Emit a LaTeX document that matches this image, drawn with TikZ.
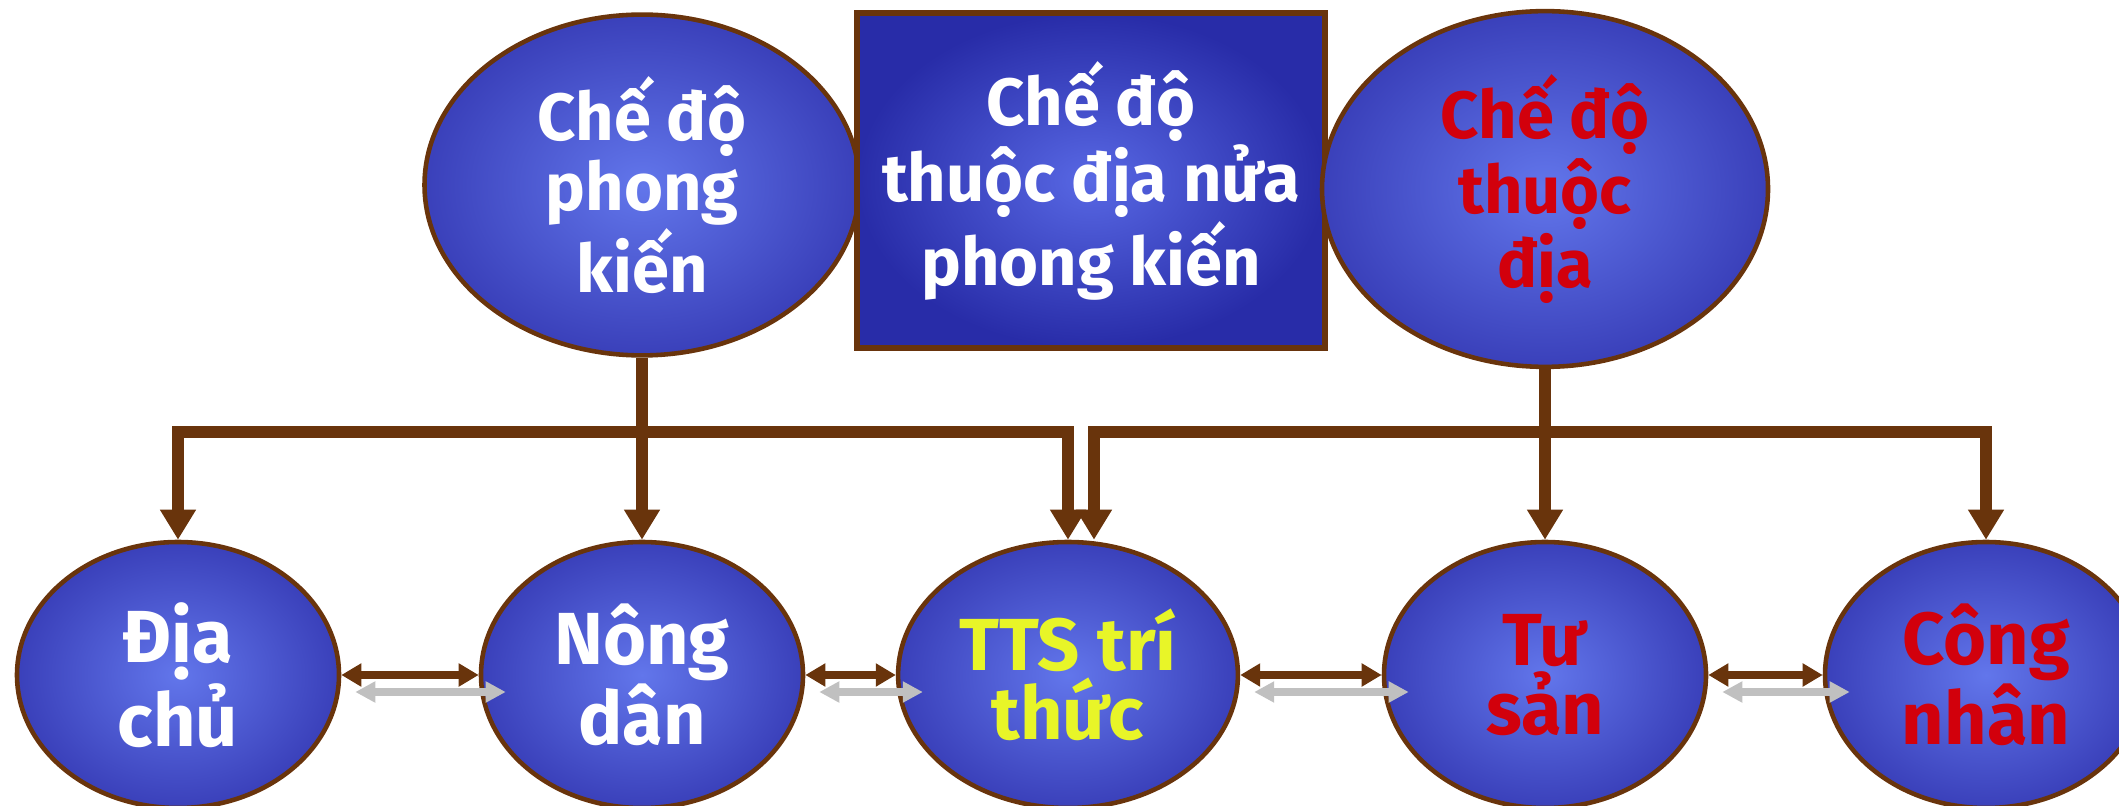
\documentclass[tikz,border=0pt]{standalone}
\usepackage{fontspec}
\setmainfont{Fira Sans}
\usepackage{xcolor}
\usetikzlibrary{arrows.meta, positioning, shapes.geometric}

\definecolor{linkbrown}{RGB}{105,52,12}
\definecolor{ballblue}{RGB}{58,64,186}
\definecolor{balllight}{RGB}{98,118,235}
\definecolor{boxdark}{RGB}{40,44,168}
\definecolor{boxlight}{RGB}{88,104,228}
\definecolor{txtred}{RGB}{210,0,12}
\definecolor{txtyellow}{RGB}{232,245,40}
\definecolor{ghostgray}{RGB}{192,192,192}

\begin{document}
\begin{tikzpicture}
            %Block styles
            \tikzstyle{regime} = [draw=linkbrown, line width=1.3pt, ellipse, inner color=balllight, outer color=ballblue, minimum width=4.35cm, minimum height=3.38cm, align=center, text=white, font=\fontsize{19}{18.5}\selectfont\bfseries]
            \tikzstyle{regimebox} = [draw=linkbrown, line width=1.8pt, rectangle, inner color=boxlight, outer color=boxdark, minimum width=4.68cm, minimum height=3.35cm, align=center, text=white, font=\fontsize{19}{18.5}\selectfont\bfseries]
            \tikzstyle{classe} = [draw=linkbrown, line width=1.3pt, ellipse, inner color=balllight, outer color=ballblue, minimum width=3.22cm, minimum height=2.66cm, align=center, text=white, font=\fontsize{21}{19.5}\selectfont\bfseries]
            \tikzstyle{feed} = [draw=linkbrown, line width=3.2pt, -{Triangle[width=0.34cm, length=0.3cm]}]
            \tikzstyle{link} = [draw=linkbrown, line width=2.3pt, {Triangle[width=0.22cm, length=0.2cm]}-{Triangle[width=0.22cm, length=0.2cm]}]
            \tikzstyle{ghost} = [draw=ghostgray, line width=2pt, {Triangle[width=0.2cm, length=0.2cm]}-{Triangle[width=0.2cm, length=0.2cm]}]

            \useasboundingbox (0,0) rectangle (21.19,8.05);
            \clip (0,0) rectangle (21.19,8.05);

            %Nodes
            \node[regime] at (6.42, 6.20) (pk) {Chế độ\\phong\\kiến};
            \node[regimebox] at (10.91, 6.245) (nuapk) {Chế độ\\thuộc địa nửa\\phong kiến};
            \node[regime, text=txtred, minimum width=4.46cm, minimum height=3.46cm] at (15.45, 6.16) (td) {Chế độ\\thuộc\\địa};

            \node[classe] at (1.78, 1.30) (dia) {Địa\\chủ};
            \node[classe] at (6.42, 1.30) (nd) {Nông\\dân};
            \node[classe, text=txtyellow] at (10.68, 1.30) (tts) {TTS trí\\thức};
            \node[classe, text=txtred] at (15.45, 1.30) (ts) {Tư\\sản};
            \node[classe, text=txtred] at (19.86, 1.30) (cn) {Công\\nhân};

            \coordinate (busL) at (6.42, 3.73);
            \coordinate (busR) at (15.45, 3.73);

            %Connectors
            \draw[feed] (pk.south) -- (nd.north);
            \draw[feed] (td.south) -- (ts.north);
            \draw[feed] (busL) -| (dia.north);
            \draw[feed] (busL) -| (tts.north);
            \draw[feed] (busR) -| ([xshift=0.26cm]tts.north);
            \draw[feed] (busR) -| (cn.north);

            \draw[link] (dia.east) -- (nd.west);
            \draw[link] (nd.east) -- (tts.west);
            \draw[link] (tts.east) -- (ts.west);
            \draw[link] (ts.east) -- (cn.west);
            \draw[ghost] ([shift={(0.14,-0.17)}]dia.east) -- ([shift={(0.27,-0.17)}]nd.west);
            \draw[ghost] ([shift={(0.14,-0.17)}]nd.east) -- ([shift={(0.27,-0.17)}]tts.west);
            \draw[ghost] ([shift={(0.14,-0.17)}]tts.east) -- ([shift={(0.27,-0.17)}]ts.west);
            \draw[ghost] ([shift={(0.14,-0.17)}]ts.east) -- ([shift={(0.27,-0.17)}]cn.west);
\end{tikzpicture}
\end{document}
